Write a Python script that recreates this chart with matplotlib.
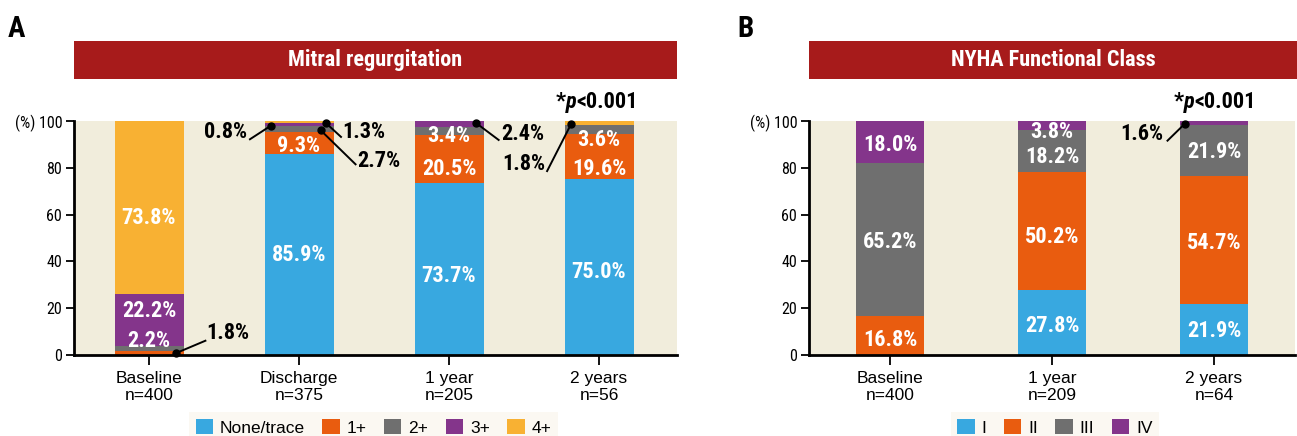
import matplotlib
matplotlib.use("Agg")
import matplotlib.pyplot as plt
from matplotlib import font_manager
from matplotlib.patches import Patch

# Panel A - mitral regurgitation (%)
mr_groups = ["Baseline\nn=400", "Discharge\nn=375", "1 year\nn=205", "2 years\nn=56"]
mr_none = [0.0, 85.9, 73.7, 75.0]
mr_1 = [1.8, 9.3, 20.5, 19.6]
mr_2 = [2.2, 2.7, 3.4, 3.6]
mr_3 = [22.2, 1.3, 2.4, 0.0]
mr_4 = [73.8, 0.8, 0.0, 1.8]
mr_names = ["None/trace", "1+", "2+", "3+", "4+"]

# Panel B - NYHA class (%)
nyha_groups = ["Baseline\nn=400", "1 year\nn=209", "2 years\nn=64"]
nyha_1 = [0.0, 27.8, 21.9]
nyha_2 = [16.8, 50.2, 54.7]
nyha_3 = [65.2, 18.2, 21.9]
nyha_4 = [18.0, 3.8, 1.6]
nyha_names = ["I", "II", "III", "IV"]

y_ticks = [0, 20, 40, 60, 80, 100]
y_ticklabels = ["0", "20", "40", "60", "80", "(%) 100"]
p_parts = ["*", "p", "<0.001"]

BLUE = "#38a8e0"
ORANGE = "#e95c0f"
GREY = "#6f6f6f"
PURPLE = "#84358b"
YELLOW = "#f8b133"
RED = "#a71b1b"
BEIGE = "#f1eddc"

W, H = 1297, 436


def pick_fonts():
    """look for a narrow / condensed face, fall back to Roboto"""
    fl = font_manager.fontManager.ttflist
    names = {f.name for f in fl}
    for n in ["Liberation Sans Narrow", "Roboto Condensed", "Noto Sans Condensed",
              "Open Sans Condensed", "DejaVu Sans Condensed"]:
        if n in names:
            return {"fontfamily": n}, True
    for n in ["Noto Sans", "DejaVu Sans", "Open Sans", "Roboto"]:
        for f in fl:
            if f.name == n and f.stretch in ("condensed", "semi-condensed"):
                return {"fontfamily": n, "fontstretch": "condensed"}, True
    if "Roboto" in names:
        return {"fontfamily": "Roboto"}, False
    return {"fontfamily": "DejaVu Sans"}, False


COND, IS_COND = pick_fonts()
PLAIN = "Liberation Sans" if "Liberation Sans" in {f.name for f in font_manager.fontManager.ttflist} else "DejaVu Sans"
LBL = 16 if IS_COND else 13.5
TITLE = 16 if IS_COND else 13


def fig_box(x0, y0, x1, y1):
    """pixel box (top-left origin) -> figure fraction rect"""
    return [x0 / W, 1 - y1 / H, (x1 - x0) / W, (y1 - y0) / H]


def stacked(ax, series, colors, width):
    x = list(range(len(series[0])))
    bottom = [0.0] * len(x)
    for vals, c in zip(series, colors):
        ax.bar(x, vals, width, bottom=bottom, color=c, linewidth=0, zorder=2)
        bottom = [b + v for b, v in zip(bottom, vals)]


def style_axes(ax, groups, xmax):
    ax.set_facecolor(BEIGE)
    ax.set_xlim(-0.5, xmax)
    ax.set_ylim(0, 100)
    ax.spines["top"].set_visible(False)
    ax.spines["right"].set_visible(False)
    for s in ("left", "bottom"):
        ax.spines[s].set_linewidth(2)
        ax.spines[s].set_zorder(5)
    ax.set_yticks(y_ticks)
    ax.set_yticklabels(y_ticklabels, fontsize=11.5, **COND)
    ax.set_xticks(range(len(groups)))
    ax.set_xticklabels(groups, fontfamily=PLAIN, fontsize=12.5, linespacing=1.2)
    ax.tick_params(axis="y", length=6, width=1.3, pad=2.5)
    ax.tick_params(axis="x", length=7, width=1.3, pad=4.5)


def banner(fig, box, title):
    bax = fig.add_axes(fig_box(*box))
    bax.set_facecolor(RED)
    bax.set_xticks([])
    bax.set_yticks([])
    for s in bax.spines.values():
        s.set_visible(False)
    bax.text(0.5, 0.5, title, ha="center", va="center", color="white",
             fontweight="bold", fontsize=TITLE, transform=bax.transAxes, **COND)


def inside(ax, items, series):
    for i, k, y in items:
        ax.text(i, y, f"{series[k][i]:.1f}%", ha="center", va="center",
                color="white", fontweight="bold", fontsize=LBL, zorder=6, **COND)


def callout(ax, items, series):
    for i, k, dx, dy, lx, ly, tx, ty, ha in items:
        ax.plot([dx, lx], [dy, ly], color="black", lw=1.4, zorder=7, clip_on=False)
        ax.plot(dx, dy, "o", color="black", ms=5, zorder=8, clip_on=False)
        ax.text(tx, ty, f"{series[k][i]:.1f}%", ha=ha, va="center",
                color="black", fontweight="bold", fontsize=LBL, zorder=8, **COND)


def p_value(ax, x, y):
    # "*p<0.001" with italic p, pieces chained on one baseline
    t = ax.text(x, y, p_parts[0], ha="left", va="bottom", fontweight="bold",
                fontsize=LBL, clip_on=False, **COND)
    for part, style in zip(p_parts[1:], ["italic", "normal"]):
        t = ax.annotate(part, xy=(1, 0), xycoords=t, ha="left", va="bottom",
                        fontweight="bold", fontstyle=style, fontsize=LBL,
                        annotation_clip=False, **COND)


def legend(fig, names_, colors, cx):
    handles = [Patch(facecolor=c, edgecolor="none") for c in colors]
    leg = fig.legend(handles, names_, loc="upper center",
                     bbox_to_anchor=(cx / W, 1 - 412 / H), ncol=len(names_),
                     frameon=True, fancybox=False, borderpad=0.4,
                     borderaxespad=0, handlelength=1.0, handleheight=1.0,
                     handletextpad=0.4, columnspacing=1.0,
                     prop={"family": PLAIN, "size": 12.5})
    leg.get_frame().set_facecolor("#faf7ef")
    leg.get_frame().set_edgecolor("none")


def main():
    fig = plt.figure(figsize=(W / 100, H / 100), dpi=100)

    # ---- A ----
    mr = [mr_none, mr_1, mr_2, mr_3, mr_4]
    mr_colors = [BLUE, ORANGE, GREY, PURPLE, YELLOW]
    ax = fig.add_axes(fig_box(74, 121, 677, 355))
    stacked(ax, mr, mr_colors, 0.46)
    style_axes(ax, mr_groups, 3.52)
    inside(ax, [(0, 4, 58.5), (0, 3, 18.9), (0, 2, 6.0),
                (1, 0, 42.7), (1, 1, 89.2),
                (2, 0, 33.8), (2, 1, 79.3), (2, 2, 93.6),
                (3, 0, 35.3), (3, 1, 79.5), (3, 2, 91.9)], mr)
    callout(ax, [(0, 1, 0.18, 0.8, 0.376, 6.1, 0.38, 9.5, "left"),
                 (1, 4, 0.81, 97.9, 0.673, 92.2, 0.653, 95.3, "right"),
                 (1, 3, 1.18, 99.1, 1.28, 93.2, 1.29, 95.3, "left"),
                 (1, 2, 1.145, 96.0, 1.377, 81.5, 1.39, 83.0, "left"),
                 (2, 3, 2.177, 99.3, 2.331, 91.9, 2.345, 94.6, "left"),
                 (3, 4, 2.814, 98.7, 2.654, 78.6, 2.64, 81.7, "right")], mr)
    p_value(ax, 2.71, 103.5)
    banner(fig, (74, 41, 677, 79), "Mitral regurgitation")
    legend(fig, mr_names, mr_colors, 373.5)
    fig.text(8 / W, 1 - 37 / H, "A", fontweight="bold", fontsize=21,
             va="baseline", **COND)

    # ---- B ----
    ny = [nyha_1, nyha_2, nyha_3, nyha_4]
    ny_colors = [BLUE, ORANGE, GREY, PURPLE]
    bx = fig.add_axes(fig_box(809, 121, 1295, 355))
    stacked(bx, ny, ny_colors, 0.425)
    style_axes(bx, nyha_groups, 2.5)
    inside(bx, [(0, 3, 89.7), (0, 2, 48.1), (0, 1, 6.3),
                (1, 3, 95.4), (1, 2, 84.7), (1, 1, 50.6), (1, 0, 12.3),
                (2, 2, 86.9), (2, 1, 47.7), (2, 0, 10.3)], ny)
    callout(bx, [(2, 3, 1.818, 98.7, 1.713, 91.6, 1.69, 94.5, "right")], ny)
    p_value(bx, 1.75, 103.5)
    banner(fig, (809, 41, 1297, 79), "NYHA Functional Class")
    legend(fig, nyha_names, ny_colors, 1055)
    fig.text(737 / W, 1 - 37 / H, "B", fontweight="bold", fontsize=21,
             va="baseline", **COND)

    fig.savefig("out.png", dpi=100)


if __name__ == "__main__":
    main()
